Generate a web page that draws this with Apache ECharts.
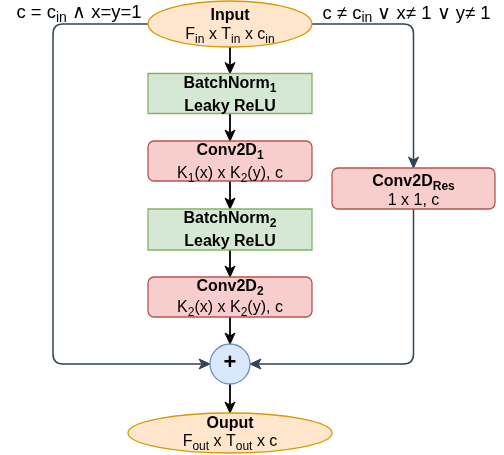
<!DOCTYPE html>
<html><head><meta charset="utf-8">
<script src="https://cdn.jsdelivr.net/npm/echarts@6/dist/echarts.min.js"></script>
<style>html,body{margin:0;padding:0;background:#fff}#c{width:504px;height:455px}</style>
</head><body><div id="c"></div>
<script>
// ---- content (text uses _{...} for subscripts) ----
const nodeIds      = ['input', 'bn1', 'conv1', 'bn2', 'conv2', 'res', 'plus', 'output'];
const nodeTitles   = ['Input', 'BatchNorm_{1}', 'Conv2D_{1}', 'BatchNorm_{2}', 'Conv2D_{2}', 'Conv2D_{Res}', '+', 'Ouput'];
const nodeDetails  = ['F_{in} x T_{in} x c_{in}', 'Leaky ReLU', 'K_{1}(x) x K_{2}(y), c', 'Leaky ReLU', 'K_{2}(x) x K_{2}(y), c', '1 x 1, c', '', 'F_{out} x T_{out} x c'];
const detailBold   = [false, true, false, true, false, false, false, false];
const mainFlow     = ['input', 'bn1', 'conv1', 'bn2', 'conv2', 'plus', 'output'];
const skipEdges    = [['input', 'plus', 'left', 'left'], ['input', 'res', 'right', 'top'], ['res', 'plus', 'bottom', 'right']];
const condLabels   = ['c = c_{in} ∧ x=y=1', 'c ≠ c_{in} ∨ x≠ 1 ∨ y≠ 1'];

// ---- layout (diagram units = pixels of a 504x455 canvas) ----
const layout = {
  input:  {kind: 'ellipse',   cx: 230,   cy: 24,    w: 164, h: 46, lh: 19,   dy: 1.5, fill: '#ffe6cc', stroke: '#d79b00'},
  bn1:    {kind: 'rect',      cx: 230,   cy: 93.5,  w: 164, h: 40, lh: 23,   dy: 1.5, fill: '#d5e8d4', stroke: '#82b366'},
  conv1:  {kind: 'roundRect', cx: 230,   cy: 161,   w: 164, h: 40, lh: 23,   dy: 1,   fill: '#f8cecc', stroke: '#b85450'},
  bn2:    {kind: 'rect',      cx: 230,   cy: 229.5, w: 164, h: 41, lh: 23,   dy: 1,   fill: '#d5e8d4', stroke: '#82b366'},
  conv2:  {kind: 'roundRect', cx: 230,   cy: 297,   w: 164, h: 40, lh: 21,   dy: 0.5, fill: '#f8cecc', stroke: '#b85450'},
  res:    {kind: 'roundRect', cx: 413.5, cy: 188.5, w: 163, h: 41, lh: 18.5, dy: 2.5, fill: '#f8cecc', stroke: '#b85450'},
  plus:   {kind: 'circle',    cx: 230,   cy: 364,   w: 40,  h: 40, lh: 20,   dy: 0,   fill: '#dae8fc', stroke: '#6c8ebf'},
  output: {kind: 'ellipse',   cx: 230,   cy: 433,   w: 204, h: 40, lh: 18.5, dy: -0.5, fill: '#ffe6cc', stroke: '#d79b00'}
};
const leftLaneX = 53;
const condPos = [[79, 13], [406.5, 13.5]];
const FONT = '"Liberation Sans", Arial, Helvetica, sans-serif';
const SKIP_COLOR = '#314354';

function toRich(str, bold, key) {
  return str.replace(/_\{([^}]*)\}|([^_]+)/g, function (m, sub, txt) {
    if (sub !== undefined) return '{' + (bold ? 'bs' : 's') + key + '|' + sub + '}';
    return '{' + (bold ? 'b' : 'r') + key + '|' + txt + '}';
  });
}
function richStyles(lh, key, fs, sfs) {
  fs = fs || 16; sfs = sfs || 12;
  const sh = lh - 10;
  const o = {};
  o['r' + key] = {fontFamily: FONT, fontSize: fs, lineHeight: lh, fill: '#000'};
  o['b' + key] = {fontFamily: FONT, fontSize: fs, lineHeight: lh, fontWeight: 'bold', fill: '#000'};
  o['s' + key] = {fontFamily: FONT, fontSize: sfs, lineHeight: sh, height: sh, verticalAlign: 'bottom', fill: '#000'};
  o['bs' + key] = {fontFamily: FONT, fontSize: sfs, lineHeight: sh, height: sh, verticalAlign: 'bottom', fontWeight: 'bold', fill: '#000'};
  return o;
}

function anchor(id, side) {
  const n = layout[id];
  if (side === 'left') return [n.cx - n.w / 2, n.cy];
  if (side === 'right') return [n.cx + n.w / 2, n.cy];
  if (side === 'top') return [n.cx, n.cy - n.h / 2];
  return [n.cx, n.cy + n.h / 2];
}
function route(from, to, fs, ts) {
  const s = anchor(from, fs), e = anchor(to, ts);
  const hs = fs === 'left' || fs === 'right', ht = ts === 'left' || ts === 'right';
  if (hs && ht) { const lane = fs === 'left' ? leftLaneX : s[0]; return [s, [lane, s[1]], [lane, e[1]], e]; }
  if (hs && !ht) return [s, [e[0], s[1]], e];
  if (!hs && ht) return [s, [s[0], e[1]], e];
  return [s, e];
}
const edges = [];
for (let i = 0; i < mainFlow.length - 1; i++) edges.push({pts: route(mainFlow[i], mainFlow[i + 1], 'bottom', 'top'), color: '#000', width: 1.8});
skipEdges.forEach(function (e) { edges.push({pts: route(e[0], e[1], e[2], e[3]), color: SKIP_COLOR, width: 1.5}); });

function edgeGraphic(px, color, width) {
  const n = px.length, R = 10, AL = 11, AW = 5, NOTCH = 3;
  const end = px[n - 1], prev = px[n - 2];
  let dx = end[0] - prev[0], dy = end[1] - prev[1];
  const len = Math.hypot(dx, dy); dx /= len; dy /= len;
  const lineEnd = [end[0] - dx * (AL - NOTCH), end[1] - dy * (AL - NOTCH)];
  let d = 'M' + px[0][0] + ' ' + px[0][1];
  for (let i = 1; i < n - 1; i++) {
    const a = px[i - 1], b = px[i], c = px[i + 1];
    const l1 = Math.hypot(b[0] - a[0], b[1] - a[1]), l2 = Math.hypot(c[0] - b[0], c[1] - b[1]);
    const r = Math.min(R, l1 / 2, l2 / 2);
    const p1 = [b[0] - (b[0] - a[0]) / l1 * r, b[1] - (b[1] - a[1]) / l1 * r];
    const p2 = [b[0] + (c[0] - b[0]) / l2 * r, b[1] + (c[1] - b[1]) / l2 * r];
    d += ' L' + p1[0] + ' ' + p1[1] + ' Q' + b[0] + ' ' + b[1] + ' ' + p2[0] + ' ' + p2[1];
  }
  d += ' L' + lineEnd[0] + ' ' + lineEnd[1];
  const base = [end[0] - dx * AL, end[1] - dy * AL];
  const nx = -dy, ny = dx;
  const head = [end, [base[0] + nx * AW, base[1] + ny * AW], lineEnd, [base[0] - nx * AW, base[1] - ny * AW]];
  return [
    {type: 'path', shape: {pathData: d}, style: {fill: null, stroke: color, lineWidth: width}},
    {type: 'polygon', shape: {points: head}, style: {fill: color, stroke: color, lineWidth: 1, lineJoin: 'miter'}}
  ];
}

const chart = echarts.init(document.getElementById('c'), null, {renderer: 'canvas'});
chart.setOption({
  animation: false,
  backgroundColor: '#fff',
  grid: {left: 0, right: 0, top: 0, bottom: 0},
  xAxis: {type: 'value', min: 0, max: 504, show: false},
  yAxis: {type: 'value', min: 0, max: 455, inverse: true, show: false},
  series: [
    {
      type: 'custom', coordinateSystem: 'cartesian2d', z: 1,
      data: edges.map(function (e, i) { return [i]; }),
      renderItem: function (params, api) {
        const e = edges[api.value(0)];
        const px = e.pts.map(function (p) { return api.coord(p); });
        return {type: 'group', children: edgeGraphic(px, e.color, e.width)};
      }
    },
    {
      type: 'custom', coordinateSystem: 'cartesian2d', z: 2,
      data: nodeIds.map(function (id, i) { return [i]; }),
      renderItem: function (params, api) {
        const i = api.value(0), n = layout[nodeIds[i]];
        const c = api.coord([n.cx, n.cy]);
        const sz = api.size([n.w, n.h]);
        const w = sz[0], h = sz[1];
        const st = {fill: n.fill, stroke: n.stroke, lineWidth: 1.3};
        let shape;
        if (n.kind === 'ellipse') shape = {type: 'ellipse', shape: {cx: c[0], cy: c[1], rx: w / 2, ry: h / 2}, style: st};
        else if (n.kind === 'circle') shape = {type: 'circle', shape: {cx: c[0], cy: c[1], r: w / 2}, style: st};
        else shape = {type: 'rect', shape: {x: c[0] - w / 2, y: c[1] - h / 2, width: w, height: h, r: n.kind === 'roundRect' ? 6 : 0}, style: st};
        let text;
        const key = String(i);
        if (n.kind === 'circle') {
          text = {type: 'text', style: {text: nodeTitles[i], x: c[0], y: c[1] - 1, align: 'center', verticalAlign: 'middle', fontFamily: FONT, fontSize: 22, fontWeight: 'bold', fill: '#000'}};
        } else {
          const t = toRich(nodeTitles[i], true, key) + '\n' + toRich(nodeDetails[i], detailBold[i], key);
          text = {type: 'text', style: {text: t, x: c[0], y: c[1] + n.dy, align: 'center', verticalAlign: 'middle', rich: richStyles(n.lh, key), fontFamily: FONT, fontSize: 16}};
        }
        return {type: 'group', children: [shape, text]};
      }
    },
    {
      type: 'custom', coordinateSystem: 'cartesian2d', z: 3,
      data: condLabels.map(function (t, i) { return [i]; }),
      renderItem: function (params, api) {
        const i = api.value(0);
        const c = api.coord(condPos[i]);
        return {type: 'text', style: {text: toRich(condLabels[i], false, 'c'), x: c[0], y: c[1], align: 'center', verticalAlign: 'middle', rich: richStyles(22, 'c', 18.5, 14), fontFamily: FONT, fontSize: 18.5}};
      }
    }
  ]
});
</script></body></html>
